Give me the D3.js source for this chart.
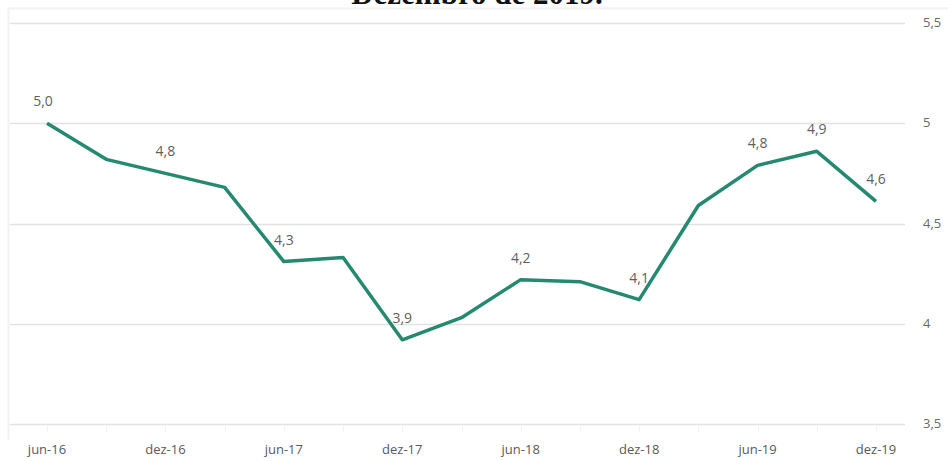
<!DOCTYPE html>
<html>
<head>
<meta charset="utf-8">
<script src="https://cdn.jsdelivr.net/npm/d3@7"></script>
<style>
  html, body { margin: 0; padding: 0; background: #fff; }
  svg { display: block; }
</style>
</head>
<body>
<svg id="chart" width="948" height="461"></svg>
<script>
// Quarterly periods, June 2016 to December 2019
const periods = ["jun-16","set-16","dez-16","mar-17","jun-17","set-17","dez-17","mar-18",
                 "jun-18","set-18","dez-18","mar-19","jun-19","set-19","dez-19"];
const values = [5.0, 4.82, 4.75, 4.68, 4.31, 4.33, 3.92, 4.03,
                4.22, 4.21, 4.12, 4.59, 4.79, 4.86, 4.61];
// Points that carry a value label, and the label text shown
const labelIdx   = [0, 2, 4, 6, 8, 10, 12, 13, 14];
const labelTexts = ["5,0","4,8","4,3","3,9","4,2","4,1","4,8","4,9","4,6"];
const xTickLabels = ["jun-16","dez-16","jun-17","dez-17","jun-18","dez-18","jun-19","dez-19"];
const yTicks = [3.5, 4, 4.5, 5, 5.5];
const yTickLabels = ["3,5","4","4,5","5","5,5"];
const title = "Dezembro de 2019.";

const svg = d3.select("#chart");
const W = 948, H = 461;
const plot = { left: 10, right: 905, top: 23, bottom: 424 };

const x = d3.scalePoint().domain(periods).range([47, 876]);
const y = d3.scaleLinear().domain([3.5, 5.5]).range([plot.bottom, plot.top]);

const fontFam = "'Open Sans', 'Noto Sans', sans-serif";

// Title (sits mostly above the top edge of the page)
svg.append("text")
  .attr("x", 477).attr("y", 4)
  .attr("text-anchor", "middle")
  .attr("font-family", "'Liberation Serif', 'DejaVu Serif', serif")
  .attr("font-weight", "bold")
  .attr("font-size", 31)
  .attr("fill", "#111")
  .text(title);

// Faint chart-area frame (top and left)
svg.append("line")
  .attr("x1", 7).attr("x2", W).attr("y1", 8.5).attr("y2", 8.5)
  .attr("stroke", "#f2f2f2").attr("stroke-width", 2);
svg.append("line")
  .attr("x1", 8.5).attr("x2", 8.5).attr("y1", 8).attr("y2", 440)
  .attr("stroke", "#f2f2f2").attr("stroke-width", 2);

// Horizontal gridlines
svg.append("g").selectAll("line").data(yTicks).join("line")
  .attr("x1", plot.left).attr("x2", plot.right)
  .attr("y1", d => Math.round(y(d)) + 0.5).attr("y2", d => Math.round(y(d)) + 0.5)
  .attr("stroke", "#e2e2e2").attr("stroke-width", 1.5);

// Right-hand value axis labels
svg.append("g").selectAll("text").data(yTicks).join("text")
  .attr("x", 923).attr("y", d => y(d) + 4)
  .attr("font-family", fontFam).attr("font-size", 13)
  .attr("fill", "#6a6a6a")
  .text((d, i) => yTickLabels[i]);

// Faint tick marks under the baseline
svg.append("g").selectAll("line").data(periods).join("line")
  .attr("x1", d => Math.round(x(d)) + 0.5).attr("x2", d => Math.round(x(d)) + 0.5)
  .attr("y1", plot.bottom + 2).attr("y2", plot.bottom + 8)
  .attr("stroke", "#f3f3f3");

// Category labels
svg.append("g").selectAll("text").data(xTickLabels).join("text")
  .attr("x", d => x(d)).attr("y", 454)
  .attr("text-anchor", "middle")
  .attr("font-family", fontFam).attr("font-size", 13)
  .attr("fill", "#5a5a5a")
  .text(d => d);

// Series line
const line = d3.line()
  .x((d, i) => x(periods[i]))
  .y(d => y(d));
svg.append("path")
  .datum(values)
  .attr("d", line)
  .attr("fill", "none")
  .attr("stroke", "#25896f")
  .attr("stroke-width", 3.5)
  .attr("stroke-linejoin", "round");

// Data labels
svg.append("g").selectAll("text").data(labelIdx).join("text")
  .attr("x", d => x(periods[d]) - (d === 0 ? 4 : 0))
  .attr("y", d => y(values[d]) - 17)
  .attr("text-anchor", "middle")
  .attr("font-family", fontFam).attr("font-size", 14)
  .attr("fill", "#5f5f5f")
  .text((d, i) => labelTexts[i]);
</script>
</body>
</html>
